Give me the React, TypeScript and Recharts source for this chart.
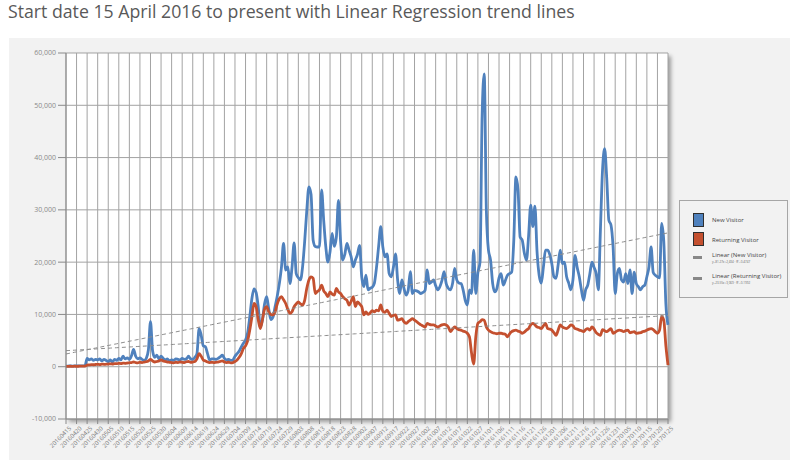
import React from "react";
import { LineChart, Line, XAxis, YAxis, CartesianGrid, Legend } from "recharts";

// daily values, 15 Apr 2016 .. 25 Jan 2017
const newVisitor = [
  100, 120, 150, 130, 140, 160, 150, 170, 160, 180,
  1600, 1300, 1500, 1200, 1400, 1300, 1500, 1100, 1400, 1200,
  1000, 1300, 900, 1400, 1200, 1600, 1300, 2000, 1500, 1700,
  1400, 2100, 3300, 2000, 1500, 1700, 1400, 1200, 1600, 3200,
  8600, 3000, 1800, 2200, 1500, 2000, 1600, 1300, 1500, 1100,
  1300, 1200, 1500, 1400, 1300, 1600, 1400, 1500, 2000, 1500,
  1400, 1800, 2500, 7300, 6000, 4000, 3800, 2500, 1300, 1500,
  1500, 1400, 1600, 1900, 2200, 1600, 1300, 1400, 1200, 1300,
  2000, 2500, 3000, 3800, 4500, 5100, 6500, 9500, 13000, 14900,
  14200, 11500, 7600, 9000, 12000, 13400, 11000, 9000, 9500, 11500,
  13500, 15900, 19000, 23600, 18500, 19100, 15900, 19000, 23700, 17800,
  17000, 16600, 19100, 24000, 29900, 34400, 33000, 24200, 23000, 22900,
  22900, 33800, 28000, 22900, 20000, 22000, 25500, 23000, 24800, 31800,
  24000, 20400, 21500, 23600, 22300, 21000, 19100, 20400, 21500, 23200,
  17200, 15300, 17500, 14700, 15000, 15200, 16000, 19000, 23000, 26800,
  22900, 21000, 21600, 17800, 17200, 19000, 21600, 16600, 14000, 16600,
  15000, 13700, 14600, 18200, 14000, 14600, 14500, 14300, 14000, 14200,
  14600, 18500, 15900, 16200, 16600, 15500, 14700, 15300, 16500, 18200,
  15900, 15000, 14700, 15900, 18800, 16600, 16000, 15900, 14700, 12700,
  11800, 14700, 14000, 22300, 14000, 18000, 20000, 48000, 56000, 30000,
  22300, 20400, 15900, 14300, 15000, 17000, 17800, 15600, 16500, 17500,
  17800, 18100, 24200, 36300, 33800, 24800, 24200, 21700, 20400, 25000,
  30900, 26800, 30700, 22000, 17500, 16000, 19000, 22300, 22300, 21500,
  19700, 17200, 16900, 19500, 22300, 19700, 20000, 17200, 16000, 14700,
  16600, 21300, 19000, 17200, 14700, 12700, 14700, 15600, 17800, 20000,
  19000, 17800, 14700, 26100, 37600, 41700, 36000, 28000, 27100, 22900,
  14000, 17800, 18800, 16600, 16200, 17800, 15900, 18500, 14000, 18100,
  15900, 15300, 14700, 15300, 15600, 17200, 19100, 22900, 18000, 17500,
  17200, 17000, 27400, 24000, 12000, 8000,
];

const returningVisitor = [
  80, 60, 90, 70, 100, 80, 90, 110, 100, 120,
  300, 350, 400, 380, 420, 450, 400, 500, 450, 480,
  500, 550, 520, 600, 580, 650, 600, 700, 650, 700,
  750, 800, 900, 800, 750, 850, 800, 900, 950, 1100,
  1400, 1100, 900, 1000, 1100, 1300, 1100, 1000, 900, 850,
  800, 750, 850, 800, 900, 850, 800, 950, 1000, 850,
  900, 1000, 1500, 2500, 2000, 1300, 1100, 900, 800, 850,
  800, 850, 900, 1000, 1100, 900, 800, 850, 750, 800,
  1000, 1300, 1800, 2500, 3500, 4000, 5000, 7000, 9500, 12100,
  11500, 9000, 7300, 9000, 11000, 11500, 10500, 10000, 9900, 10500,
  12000, 13000, 13400, 12800, 12100, 11000, 10200, 10500, 11500, 12000,
  12400, 12000, 11800, 12700, 15000, 16600, 17200, 16900, 14000, 14400,
  14700, 15600, 14500, 14000, 13400, 14300, 13900, 13700, 15000, 14300,
  14000, 13400, 13000, 12700, 11800, 12500, 13400, 11500, 12400, 12000,
  11500, 9900, 10500, 10000, 10300, 10700, 10500, 10800, 10700, 11800,
  10600, 10400, 10800, 10200, 9600, 9800, 9900, 8900, 9000, 9200,
  8600, 8300, 8600, 8900, 9200, 8900, 8600, 8300, 8000, 7800,
  7600, 8300, 8100, 8000, 8000, 7800, 7600, 7800, 8000, 8100,
  8000, 7600, 6700, 7200, 7600, 7300, 7100, 7000, 6800, 6700,
  6400, 5700, 2600, 500, 5700, 8300, 8600, 9000, 8900, 7600,
  7000, 6700, 6500, 6400, 6300, 6400, 6400, 6300, 6200, 5700,
  6300, 6700, 6900, 7000, 6800, 6700, 6400, 6600, 7000, 7300,
  8000, 8300, 8000, 7600, 7500, 7300, 7800, 8300, 7300, 7200,
  7000, 6500, 6000, 7000, 8000, 7600, 7400, 7300, 7600, 8000,
  7800, 7300, 7200, 7000, 6900, 6700, 7100, 7300, 7000, 7600,
  7200, 6500, 6200, 6000, 7100, 6900, 6700, 7000, 7300, 6400,
  6600, 6900, 7000, 6900, 6700, 6900, 7000, 6500, 6600, 6700,
  6400, 6450, 6500, 6700, 6800, 7000, 7200, 7300, 7100, 6700,
  6400, 7000, 9600, 8900, 4000, 300,
];

const yTicks = [-10000, 0, 10000, 20000, 30000, 40000, 50000, 60000];
const startDate = new Date(2016, 3, 15);

const pad = (n: number) => (n < 10 ? "0" + n : "" + n);
const dateLabel = (day: number) => {
  const d = new Date(startDate.getTime());
  d.setDate(d.getDate() + day);
  return `${d.getFullYear()}${pad(d.getMonth() + 1)}${pad(d.getDate())}`;
};

// least squares fit, like Excel's linear trendline
const fit = (ys: number[]) => {
  const n = ys.length;
  let sx = 0, sy = 0, sxx = 0, sxy = 0;
  ys.forEach((y, i) => { sx += i; sy += y; sxx += i * i; sxy += i * y; });
  const b = (n * sxy - sx * sy) / (n * sxx - sx * sx);
  const a = (sy - b * sx) / n;
  const mean = sy / n;
  let ssTot = 0, ssRes = 0;
  ys.forEach((y, i) => { ssTot += (y - mean) ** 2; ssRes += (y - (a + b * i)) ** 2; });
  return { a, b, r2: 1 - ssRes / ssTot };
};

const newFit = fit(newVisitor);
const retFit = fit(returningVisitor);

const data = newVisitor.map((v, i) => ({
  day: i,
  newV: v,
  ret: returningVisitor[i],
  newTrend: newFit.a + newFit.b * i,
  retTrend: retFit.a + retFit.b * i,
}));

const xTicks = data.filter((d) => d.day % 5 === 0).map((d) => d.day);

const BLUE = "#4f81bd";
const RED = "#c4502f";
const TREND = "#8c8c8c";
const FONT = "'Open Sans', 'DejaVu Sans', sans-serif";

const fmtEq = (f: { a: number; b: number; r2: number }) =>
  `y=${f.b.toFixed(2)}x+${Math.round(f.a).toLocaleString("en-US")} · R²=${f.r2.toFixed(4)}`;

const XTick = ({ x, y, payload }: any) => (
  <g transform={`translate(${x},${y})`}>
    <text x={0} y={0} dy={6} dx={2} textAnchor="end" transform="rotate(-45)" fontSize={6} fill="#7a7a7a" fontFamily={FONT}>
      {dateLabel(payload.value)}
    </text>
  </g>
);

const LegendBox = () => {
  const txt: React.CSSProperties = { position: "absolute", left: 32, fontSize: 6, color: "#444", whiteSpace: "nowrap", lineHeight: "8px" };
  const small: React.CSSProperties = { position: "absolute", left: 32, fontSize: 3, color: "#666", whiteSpace: "nowrap", lineHeight: "4px" };
  const sw = (top: number, fill: string): React.CSSProperties => ({
    position: "absolute", left: 13, top, width: 9, height: 12, background: fill, border: "1px solid #2e2e2e",
  });
  const ln = (top: number): React.CSSProperties => ({ position: "absolute", left: 13, top, width: 9, height: 3, background: "#888" });
  return (
    <div style={{ position: "relative", width: 107, height: 96, border: "1px solid #a6a6a6", background: "#f2f2f2", fontFamily: FONT }}>
      <div style={sw(12, BLUE)} />
      <div style={{ ...txt, top: 15 }}>New Visitor</div>
      <div style={sw(31, RED)} />
      <div style={{ ...txt, top: 35 }}>Returning Visitor</div>
      <div style={ln(55)} />
      <div style={{ ...txt, top: 50 }}>Linear (New Visitor)</div>
      <div style={{ ...small, top: 59 }}>{fmtEq(newFit)}</div>
      <div style={ln(76)} />
      <div style={{ ...txt, top: 71 }}>Linear (Returning Visitor)</div>
      <div style={{ ...small, top: 80 }}>{fmtEq(retFit)}</div>
    </div>
  );
};

export default function App() {
  return (
    <div style={{ position: "absolute", left: 0, top: 0, width: 800, height: 470, background: "#fff", overflow: "hidden" }}>
      <div style={{ position: "absolute", left: 8, top: -1, fontFamily: FONT, fontSize: 17.7, lineHeight: "24px", color: "#595959", whiteSpace: "nowrap" }}>
        Start date 15 April 2016 to present with Linear Regression trend lines
      </div>
      <div style={{ position: "absolute", left: 9, top: 38, width: 781, height: 422, background: "#f2f2f2" }} />
      <div style={{ position: "absolute", left: 66, top: 53, width: 602, height: 366, background: "#fff", boxShadow: "3px 3px 4px rgba(0,0,0,0.35)" }} />
      <div style={{ position: "absolute", left: 0, top: 0 }}>
        <LineChart width={800} height={470} data={data} margin={{ top: 53, right: 132, bottom: 11, left: 16 }}>
          <CartesianGrid stroke="#a3a3a3" strokeWidth={1} fill="#fff" />
          <XAxis
            dataKey="day"
            type="number"
            domain={[0, 285]}
            ticks={xTicks}
            interval={0}
            height={40}
            tick={<XTick />}
            tickSize={5}
            tickLine={{ stroke: "#8a8a8a" }}
            axisLine={{ stroke: "#8a8a8a" }}
          />
          <YAxis
            type="number"
            domain={[-10000, 60000]}
            ticks={yTicks}
            interval={0}
            width={50}
            tickSize={8}
            tickLine={{ stroke: "#8a8a8a" }}
            axisLine={{ stroke: "#8a8a8a" }}
            tickFormatter={(v: number) => v.toLocaleString("en-US")}
            tick={{ fontSize: 7, fill: "#8a8a8a", fontFamily: FONT }}
          />
          <Legend
            layout="horizontal"
            verticalAlign="middle"
            align="center"
            wrapperStyle={{ left: 679, top: 200, width: 109, height: 98 }}
            content={() => <LegendBox />}
          />
          <Line type="monotone" dataKey="newV" name="New Visitor" stroke={BLUE} strokeWidth={2.8} dot={false} isAnimationActive={false} />
          <Line type="monotone" dataKey="ret" name="Returning Visitor" stroke={RED} strokeWidth={2.8} dot={false} isAnimationActive={false} />
          <Line type="linear" dataKey="newTrend" name="Linear (New Visitor)" stroke={TREND} strokeWidth={1} strokeDasharray="4 3" dot={false} isAnimationActive={false} />
          <Line type="linear" dataKey="retTrend" name="Linear (Returning Visitor)" stroke={TREND} strokeWidth={1} strokeDasharray="4 3" dot={false} isAnimationActive={false} />
        </LineChart>
      </div>
    </div>
  );
}
